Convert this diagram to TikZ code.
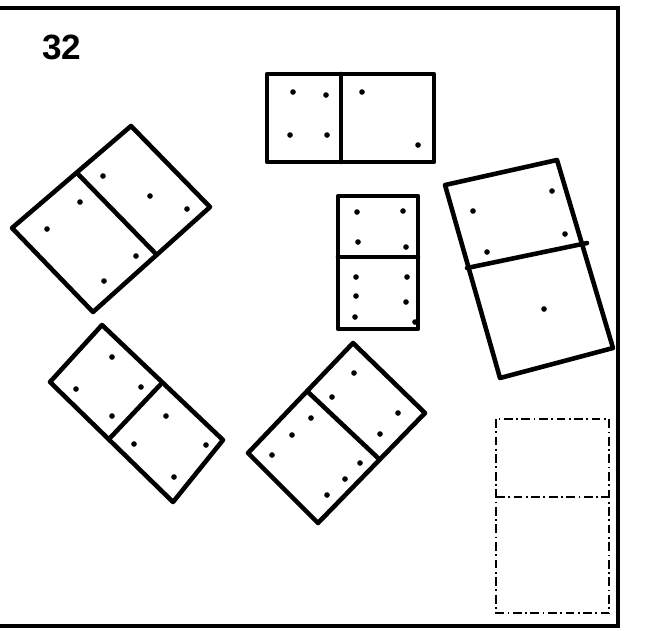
\documentclass[tikz,border=0pt]{standalone}
\usepackage{fontspec}
\setmainfont{Liberation Sans}
\usetikzlibrary{positioning}

\begin{document}
\begin{tikzpicture}[x=0.02cm, y=-0.02cm,
    tile/.style={draw, line width=2.6pt, line join=round, line cap=round},
    ghost/.style={draw, line width=1.2pt,
                  dash pattern=on 5pt off 2pt on 1pt off 2pt},
    frame/.style={draw, line width=2.4pt},
    pip/.style={fill=black},
    labl/.style={font=\bfseries\fontsize{20}{24}\selectfont}
  ]
  \useasboundingbox (0,0) rectangle (668,630);
  %% --- Frame (open on the left) ---
  \draw[frame] (0,8) -- (618,8) -- (618,626) -- (0,626);
  \node[labl] (num) at (62,47) {32};

  %% --- Top domino (horizontal) ---
  \draw[tile] (267,74) rectangle (434,162);
  \draw[tile] (341,74) -- (341,162);
  \foreach \p in {(293,92),(326,95),(290,135),(327,135),(362,92),(418,145)}
    \fill[pip] \p circle[radius=1.6pt];

  %% --- Middle domino (vertical) ---
  \draw[tile] (338,196) rectangle (418,329);
  \draw[tile] (338,257) -- (418,257);
  \foreach \p in {(357,212),(403,211),(358,242),(406,247),
                  (356,277),(407,277),(356,296),(406,302),(355,317),(415,322)}
    \fill[pip] \p circle[radius=1.6pt];

  %% --- Upper left domino (tilted) ---
  \draw[tile] (131,126) -- (210,207) -- (93,312) -- (12,228) -- cycle;
  \draw[tile] (77,173) -- (155,253);
  \foreach \p in {(103,176),(150,196),(187,209),
                  (80,202),(47,229),(136,256),(104,281)}
    \fill[pip] \p circle[radius=1.6pt];

  %% --- Right domino (tilted) ---
  \draw[tile] (445,185) -- (557,160) -- (613,348) -- (500,378) -- cycle;
  \draw[tile] (467,268) -- (587,243);
  \foreach \p in {(552,191),(473,211),(565,234),(487,252),(544,309)}
    \fill[pip] \p circle[radius=1.6pt];

  %% --- Lower left domino (tilted) ---
  \draw[tile] (102,325) -- (223,440) -- (173,502) -- (50,382) -- cycle;
  \draw[tile] (160,385) -- (110,438);
  \foreach \p in {(112,357),(76,389),(141,387),(112,416),
                  (166,416),(134,444),(206,445),(174,477)}
    \fill[pip] \p circle[radius=1.6pt];

  %% --- Lower middle domino (tilted) ---
  \draw[tile] (353,343) -- (425,413) -- (318,523) -- (248,453) -- cycle;
  \draw[tile] (308,392) -- (378,458);
  \foreach \p in {(354,373),(332,397),(398,413),(380,434),
                  (311,418),(292,435),(272,455),(360,463),(345,479),(327,495)}
    \fill[pip] \p circle[radius=1.6pt];

  %% --- Empty place (dash-dotted) ---
  \draw[ghost] (496,419) rectangle (609,613);
  \draw[ghost] (496,497) -- (609,497);
\end{tikzpicture}
\end{document}
